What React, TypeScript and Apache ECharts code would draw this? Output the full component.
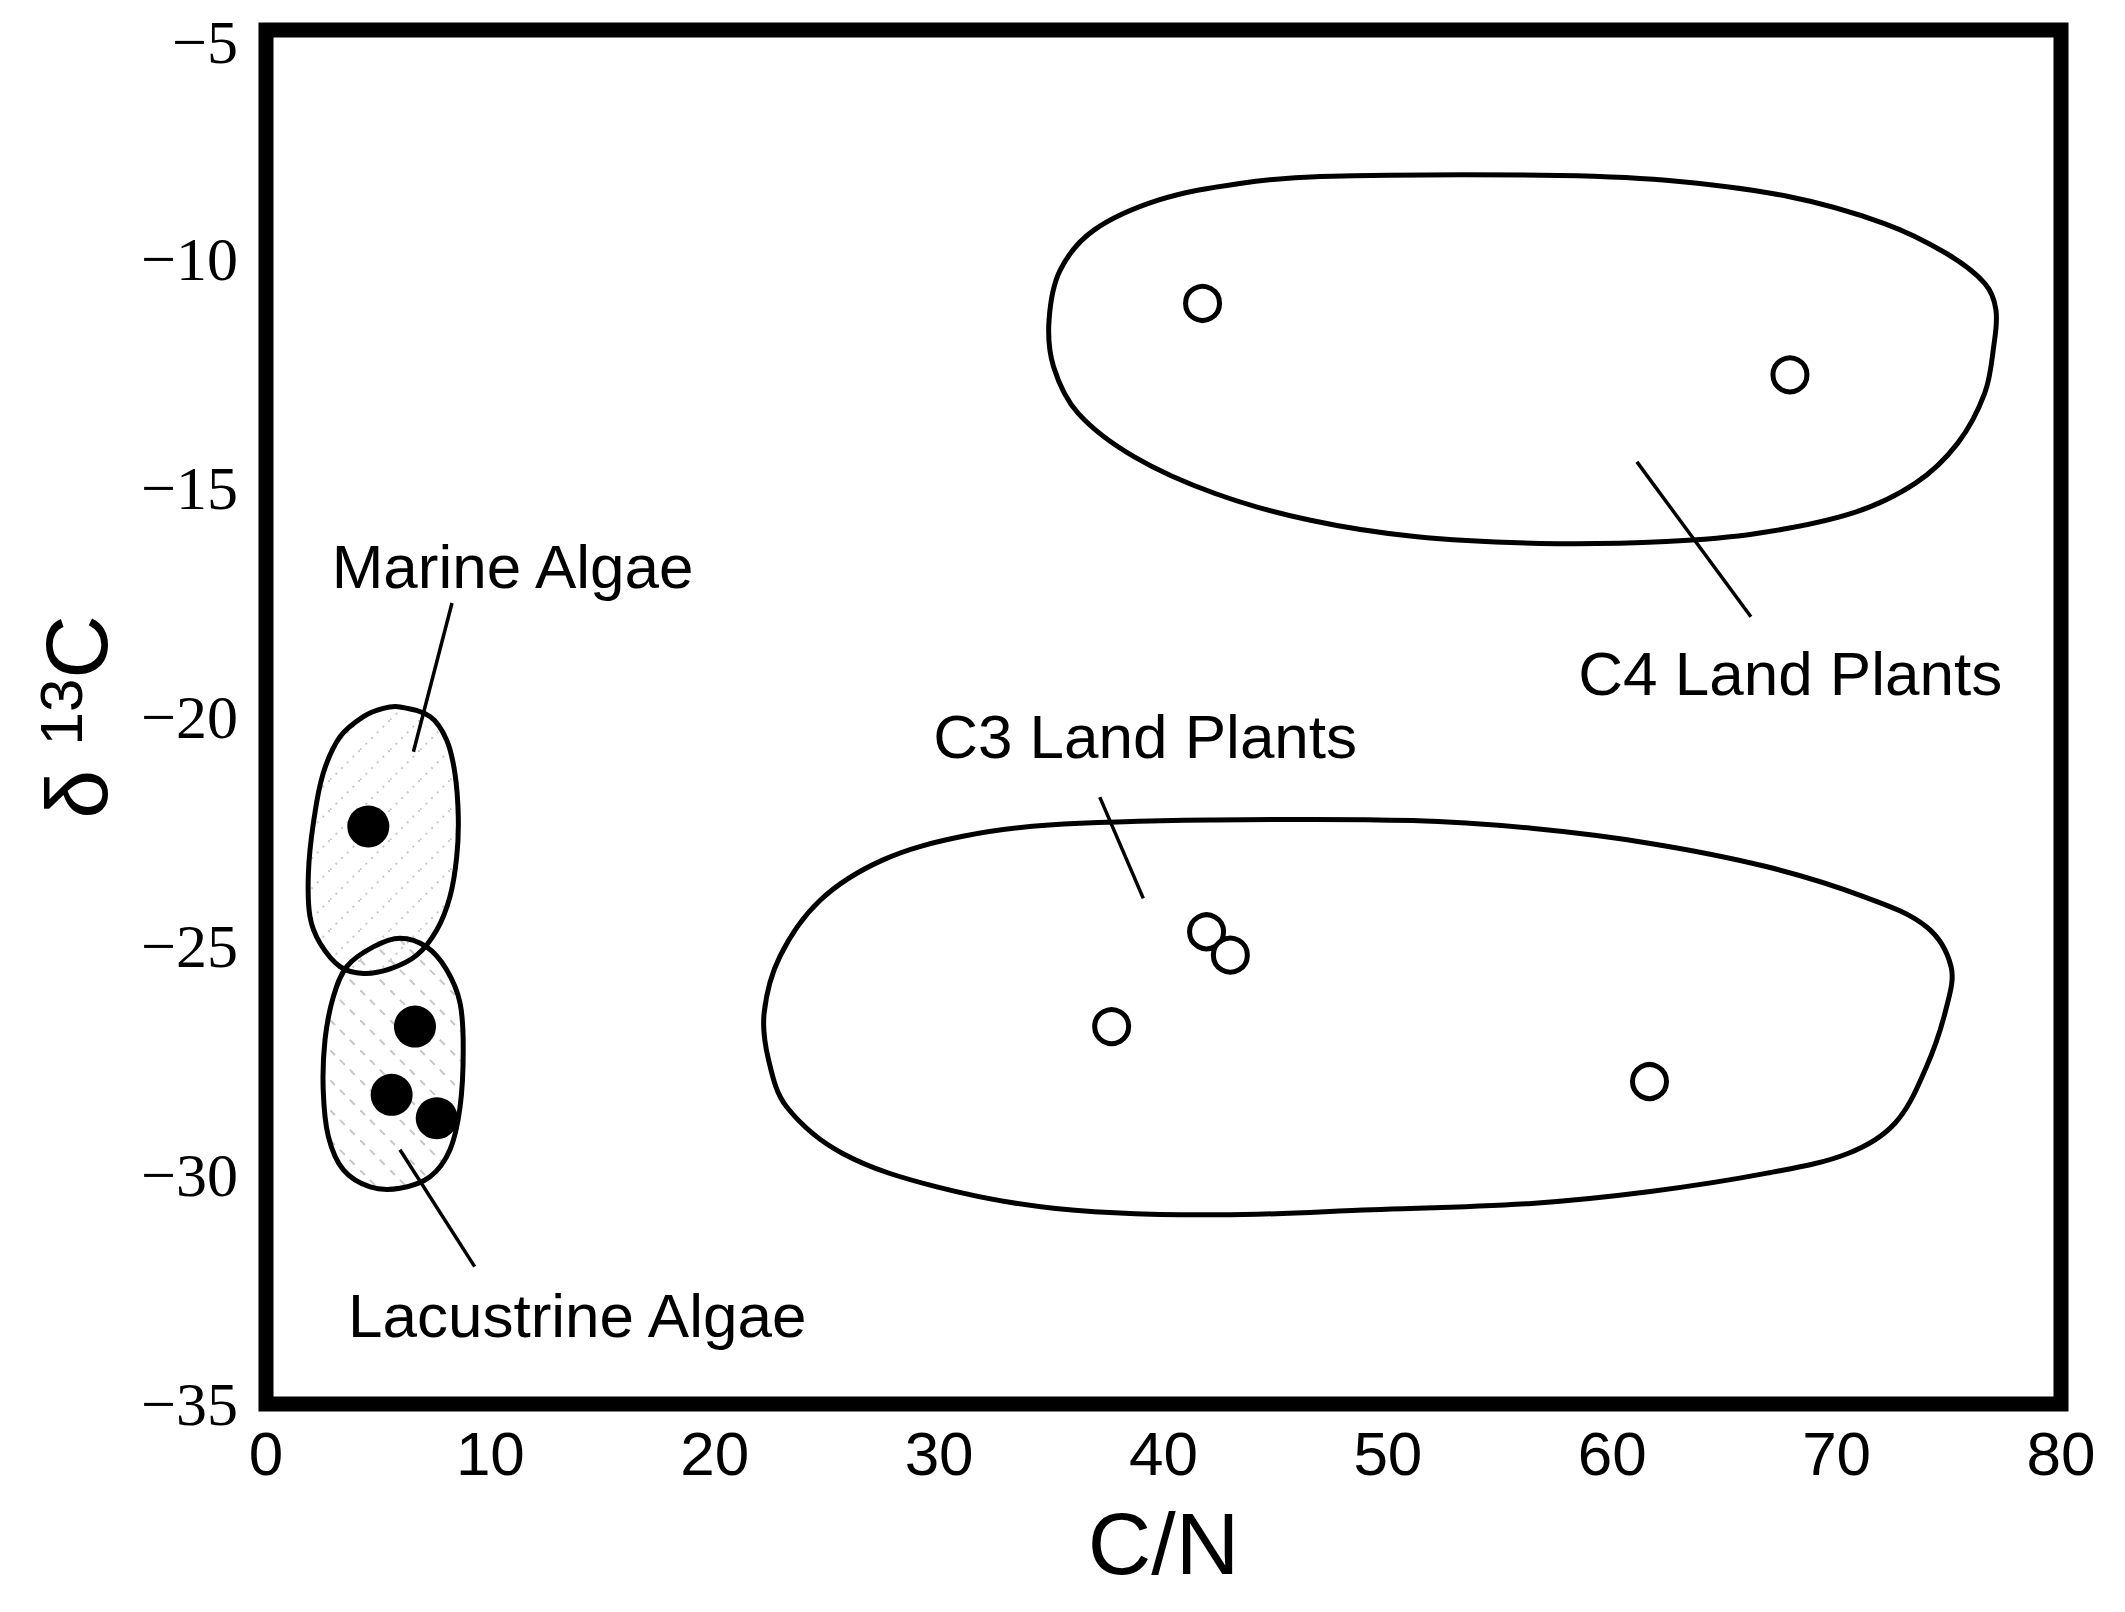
import React, { useEffect, useRef } from "react";
import * as echarts from "echarts";

// Axis ticks
const xTicks = [0, 10, 20, 30, 40, 50, 60, 70, 80];
const yTicks = [-35, -30, -25, -20, -15, -10, -5];

// Sample points [C/N, δ13C]
const marineAlgae: number[][] = [[4.56, -22.39]];
const lacustrineAlgae: number[][] = [[6.64, -26.76], [5.6, -28.25], [7.61, -28.76]];
const c3Plants: number[][] = [[41.92, -24.69], [42.98, -25.2], [37.69, -26.76], [61.66, -27.96]];
const c4Plants: number[][] = [[41.74, -10.97], [67.92, -12.53]];

// Field outlines (data units)
const marineOutline: number[][] = [
  [5.97, -19.78], [7.31, -19.99], [8.05, -20.5], [8.42, -21.23], [8.57, -22.18], [8.5, -23.05],
  [8.2, -23.92], [7.61, -24.65], [6.72, -25.2], [5.53, -25.5], [4.34, -25.6], [3.3, -25.45],
  [2.41, -24.94], [1.96, -24.36], [1.89, -23.41], [2.11, -22.32], [2.55, -21.23], [3.3, -20.43],
  [4.34, -19.99], [5.23, -19.81],
];
const lacustrineOutline: number[][] = [
  [5.97, -24.83], [7.16, -25.02], [8.05, -25.52], [8.65, -26.25], [8.79, -27.27], [8.65, -28.51],
  [8.2, -29.45], [7.31, -30.04], [5.97, -30.29], [4.64, -30.26], [3.45, -29.89], [2.78, -29.16],
  [2.55, -28.14], [2.63, -27.05], [3.0, -26.11], [3.6, -25.45], [4.78, -25.02],
];
const c3Outline: number[][] = [
  [34.9, -22.36], [42.3, -22.25], [51.1, -22.26], [56.4, -22.43], [61.7, -22.76], [66.9, -23.27],
  [71.2, -23.92], [74.0, -24.58], [75.1, -25.45], [74.9, -26.33], [74.0, -27.64], [72.6, -28.87],
  [70.5, -29.53], [66.9, -29.96], [61.7, -30.36], [56.4, -30.62], [49.3, -30.76], [42.3, -30.87],
  [35.2, -30.73], [29.9, -30.26], [25.7, -29.53], [23.2, -28.51], [22.4, -27.49], [22.2, -26.47],
  [22.9, -25.23], [24.7, -24.0], [27.5, -23.12], [31.0, -22.61],
];
const c4Outline: number[][] = [
  [47.0, -8.2], [56.8, -8.17], [62.4, -8.28], [67.9, -8.64], [72.1, -9.22], [74.9, -9.88],
  [76.6, -10.53], [77.1, -11.11], [77.0, -11.91], [76.6, -12.93], [75.4, -14.02], [73.5, -14.9],
  [70.7, -15.55], [66.5, -15.99], [62.4, -16.17], [56.8, -16.21], [51.2, -16.06], [46.5, -15.7],
  [42.3, -15.12], [38.7, -14.32], [36.2, -13.37], [35.1, -12.35], [34.9, -11.33], [35.4, -10.24],
  [36.9, -9.37], [39.8, -8.71], [43.4, -8.35],
];

// Leader lines [[from], [to]]
const marineLeader: number[][] = [[8.29, -17.51], [6.57, -20.76]];
const lacustrineLeader: number[][] = [[5.97, -29.45], [9.3, -32.0]];
const c3Leader: number[][] = [[37.16, -21.75], [39.1, -23.96]];
const c4Leader: number[][] = [[61.1, -14.43], [66.18, -17.81]];

// Field labels
const labelNames = ["Marine Algae", "Lacustrine Algae", "C3 Land Plants", "C4 Land Plants"];
const labelAnchors: number[][] = [[10.99, -16.72], [13.87, -33.06], [39.18, -20.42], [67.93, -19.06]];

const SANS = "'Liberation Sans', Arial, Helvetica, sans-serif";
const SERIF = "'Liberation Serif', 'Times New Roman', serif";

function makeHatch(dir: number, dash: number[]) {
  const c = document.createElement("canvas");
  c.width = 30;
  c.height = 30;
  const ctx = c.getContext("2d")!;
  ctx.strokeStyle = "rgba(0,0,0,0.22)";
  ctx.lineWidth = 2;
  ctx.setLineDash(dash);
  ctx.beginPath();
  if (dir > 0) {
    ctx.moveTo(0, 30);
    ctx.lineTo(30, 0);
  } else {
    ctx.moveTo(0, 0);
    ctx.lineTo(30, 30);
  }
  ctx.stroke();
  return { image: c, repeat: "repeat", imageWidth: 30, imageHeight: 30 } as any;
}

function regionSeries(name: string, outline: number[][], fill: any) {
  return {
    type: "custom",
    name,
    silent: true,
    z: 1,
    data: [outline[0]],
    renderItem: (_p: any, api: any) => {
      const pts = outline.map((pt) => api.coord(pt));
      return {
        type: "polygon",
        shape: { points: pts, smooth: 0.35 },
        style: { fill, stroke: "#000", lineWidth: 5 },
      };
    },
  };
}

function leaderSeries(pts: number[][]) {
  return {
    type: "line",
    data: pts,
    showSymbol: false,
    symbol: "none",
    silent: true,
    z: 2,
    lineStyle: { color: "#000", width: 3.5 },
  };
}

export default function App() {
  const ref = useRef<HTMLDivElement>(null);
  useEffect(() => {
    if (!ref.current) return;
    const chart = echarts.init(ref.current, null, { renderer: "svg" });
    const hatchA = makeHatch(1, [2, 6]);
    const hatchB = makeHatch(-1, [7, 7]);
    const option: any = {
      animation: false,
      backgroundColor: "#ffffff",
      grid: {
        left: 266,
        right: 64,
        top: 30,
        bottom: 208,
        show: true,
        borderColor: "#000",
        borderWidth: 15,
        backgroundColor: "transparent",
      },
      xAxis: {
        type: "value",
        min: xTicks[0],
        max: xTicks[xTicks.length - 1],
        interval: 10,
        name: "C/N",
        nameLocation: "middle",
        nameGap: 95,
        nameTextStyle: { fontFamily: SANS, fontSize: 88, color: "#000" },
        axisLine: { show: false },
        axisTick: { show: false },
        splitLine: { show: false },
        axisLabel: { fontFamily: SANS, fontSize: 62, color: "#000", margin: 18 },
      },
      yAxis: {
        type: "value",
        min: yTicks[0],
        max: yTicks[yTicks.length - 1],
        interval: 5,
        name: "δ {s|13}C",
        nameLocation: "middle",
        nameRotate: 90,
        nameGap: 145,
        nameTextStyle: {
          fontFamily: SANS,
          fontSize: 88,
          color: "#000",
          rich: { s: { fontFamily: SANS, fontSize: 60, color: "#000", padding: [0, 0, 30, 0] } },
        },
        axisLine: { show: false },
        axisTick: { show: false },
        splitLine: { show: false },
        axisLabel: {
          fontFamily: SERIF,
          fontSize: 62,
          color: "#000",
          margin: 28,
          formatter: (v: number) => {
            const s = String(v).replace("-", "\u2212");
            return v === yTicks[yTicks.length - 1] ? "{top|" + s + "}" : s;
          },
          rich: { top: { fontFamily: SERIF, fontSize: 62, color: "#000", padding: [24, 0, 0, 0] } },
        },
      },
      series: [
        regionSeries("Marine field", marineOutline, hatchA),
        regionSeries("Lacustrine field", lacustrineOutline, hatchB),
        regionSeries("C3 field", c3Outline, "none"),
        regionSeries("C4 field", c4Outline, "none"),
        leaderSeries(marineLeader),
        leaderSeries(lacustrineLeader),
        leaderSeries(c3Leader),
        leaderSeries(c4Leader),
        {
          type: "scatter",
          name: "Marine Algae",
          data: marineAlgae,
          symbol: "circle",
          symbolSize: 42,
          z: 5,
          itemStyle: { color: "#000", opacity: 1 },
        },
        {
          type: "scatter",
          name: "Lacustrine Algae",
          data: lacustrineAlgae,
          symbol: "circle",
          symbolSize: 42,
          z: 5,
          itemStyle: { color: "#000", opacity: 1 },
        },
        {
          type: "scatter",
          name: "C3 Land Plants",
          data: c3Plants,
          symbol: "circle",
          symbolSize: 34,
          z: 5,
          itemStyle: { color: "#fff", borderColor: "#000", borderWidth: 5, opacity: 1 },
        },
        {
          type: "scatter",
          name: "C4 Land Plants",
          data: c4Plants,
          symbol: "circle",
          symbolSize: 34,
          z: 5,
          itemStyle: { color: "#fff", borderColor: "#000", borderWidth: 5, opacity: 1 },
        },
        {
          type: "scatter",
          name: "labels",
          silent: true,
          z: 6,
          symbolSize: 1,
          itemStyle: { color: "rgba(0,0,0,0)", opacity: 1 },
          data: labelNames.map((n, i) => ({ name: n, value: labelAnchors[i] })),
          label: {
            show: true,
            position: "inside",
            formatter: "{b}",
            fontFamily: SANS,
            fontSize: 62,
            color: "#000",
            opacity: 1,
          },
        },
      ],
    };
    chart.setOption(option);
    return () => chart.dispose();
  }, []);
  return (
    <div
      ref={ref}
      style={{ position: "fixed", left: 0, top: 0, width: 2125, height: 1612, background: "#fff" }}
    />
  );
}
